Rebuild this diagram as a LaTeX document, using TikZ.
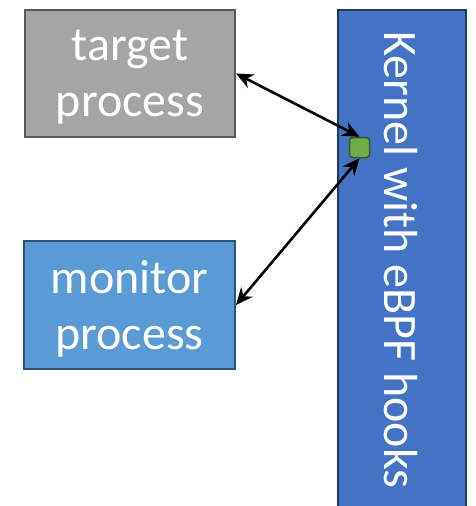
\documentclass[tikz,border=0pt]{standalone}
\usepackage{fontspec}
\setmainfont{Carlito}
\usetikzlibrary{arrows.meta}
\definecolor{boxgray}{HTML}{A5A5A5}
\definecolor{boxgrayline}{HTML}{595959}
\definecolor{monblue}{HTML}{5B9BD5}
\definecolor{monblueline}{HTML}{2E5575}
\definecolor{kernblue}{HTML}{4472C4}
\definecolor{kernblueline}{HTML}{203864}
\definecolor{hookgreen}{HTML}{70AD47}
\definecolor{hookgreenline}{HTML}{385723}
\tikzset{
  bigtext/.style={font=\fontsize{48}{56}\selectfont, text=white},
  procbox/.style={draw, line width=2pt, inner sep=0pt},
  boxtext/.style={bigtext, align=center, yshift=-4pt},
  hook/.style={draw=hookgreenline, fill=hookgreen, line width=1.5pt,
    rounded corners=3pt, minimum size=20pt, inner sep=0pt},
  link/.style={line width=2.6pt, {Stealth[length=17pt,width=15pt]}-{Stealth[length=17pt,width=15pt]}}
}
\begin{document}
\begin{tikzpicture}[x=1pt,y=-1pt]
\useasboundingbox (0,0) rectangle (475,506);
\begin{scope}
\clip (0,0) rectangle (475,506);
\node[procbox, fill=kernblue, draw=kernblueline, minimum width=128pt, minimum height=498pt]
  (kernel) at (402,259) {};
\end{scope}
\node[bigtext, rotate=-90, anchor=center] (klabel) at (401,260) {Kernel with eBPF hooks};
\node[procbox, fill=boxgray, draw=boxgrayline, minimum width=210pt, minimum height=127pt,
  label={[boxtext]center:target\\process}] (target) at (130,73.5) {};
\node[procbox, fill=monblue, draw=monblueline, minimum width=211pt, minimum height=128pt,
  label={[boxtext]center:monitor\\process}] (monitor) at (129.5,305) {};
\node[hook] (ebpf) at (359.5,147.5) {};
\draw[link] (target.east) -- (ebpf.north);
\draw[link] (monitor.east) -- (ebpf.south);
\end{tikzpicture}
\end{document}
